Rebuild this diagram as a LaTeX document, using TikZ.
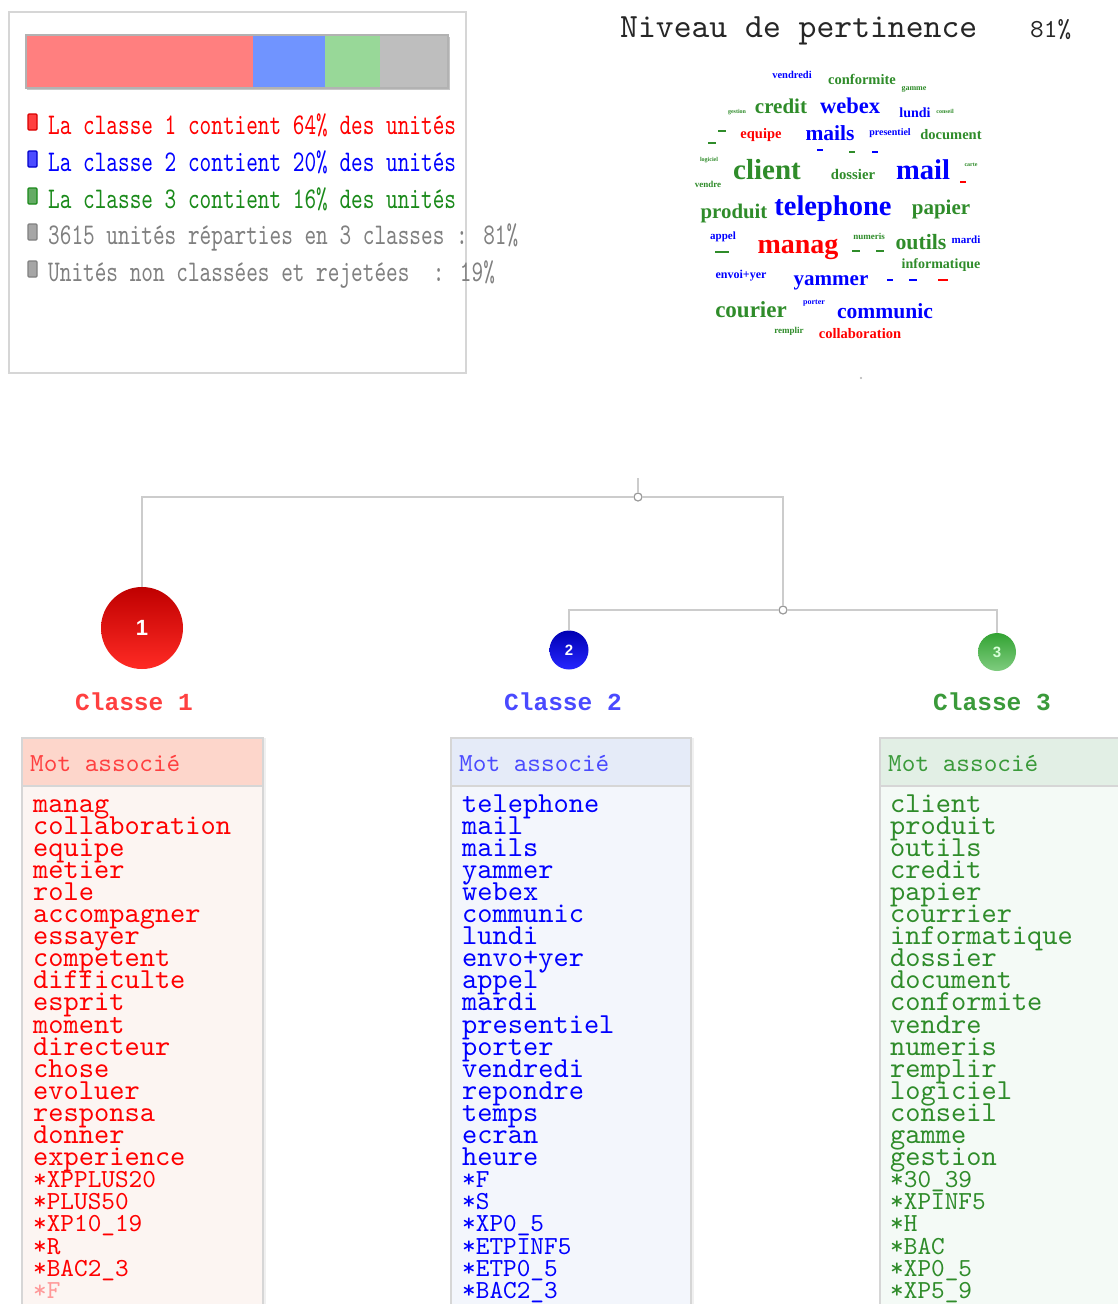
\documentclass[tikz,border=0pt]{standalone}
\usepackage{fontspec}
\newfontfamily\monof{lmmono10-regular.otf}[BoldFont=lmmonolt10-bold.otf]
\newfontfamily\legf{lmmono10-regular.otf}[FakeStretch=0.74]
\newfontfamily\lblf{Liberation Mono}
\newfontfamily\cloudf{Liberation Serif}
\newfontfamily\numf{Liberation Sans}
\definecolor{cred}{HTML}{FF0000}
\definecolor{cblue}{HTML}{0000FF}
\definecolor{cgreen}{HTML}{2F8C2A}
\definecolor{lgreen}{HTML}{1A8A1A}
\definecolor{lgray}{HTML}{808080}
\definecolor{barred}{HTML}{FF7F7F}
\definecolor{barblue}{HTML}{7094FF}
\definecolor{bargreen}{HTML}{98D898}
\definecolor{bargray}{HTML}{BEBEBE}
\definecolor{boxline}{HTML}{D6D6D6}
\definecolor{treeline}{HTML}{CCCCCC}
\definecolor{headA}{HTML}{FDD6CB}
\definecolor{bodyA}{HTML}{FCF5F2}
\definecolor{headB}{HTML}{E5EBF8}
\definecolor{bodyB}{HTML}{F3F6FC}
\definecolor{headC}{HTML}{E2EFE5}
\definecolor{bodyC}{HTML}{F4FAF6}
\definecolor{lblA}{HTML}{FF4040}
\definecolor{lblB}{HTML}{4A4AFF}
\definecolor{lblC}{HTML}{3A9A3A}
\begin{document}
\begin{tikzpicture}[x=1pt,y=-1pt,
  legtext/.style={anchor=base west, inner sep=0, font=\legf\fontsize{30}{30}\selectfont},
  wordsty/.style={anchor=base west, inner sep=0, text height=15, text depth=5, font=\monof\fontsize{29}{29}\selectfont},
  starsty/.style={anchor=base west, inner sep=0, text height=15, text depth=4, font=\monof\fontsize{26}{26}\selectfont},
  headsty/.style={anchor=base west, inner sep=0, font=\monof\fontsize{26}{26}\selectfont},
  classlbl/.style={anchor=base, inner sep=0, font=\lblf\bfseries\fontsize{24.5}{24.5}\selectfont},
  cloudw/.style={inner sep=0, font=\cloudf\bfseries\fontsize{#1}{#1}\selectfont},
  treeedge/.style={draw=treeline, line width=2},
  joint/.style={circle, draw=gray!80, fill=white, line width=1.2, minimum size=8, inner sep=0},
  ballnode/.style={circle, inner sep=0, text=white, font=\numf\bfseries\fontsize{#1}{#1}\selectfont},
  legsq/.style={rounded corners=1, line width=1.2}
]
\useasboundingbox (0,0) rectangle (1118,1304);
\clip (0,0) rectangle (1118,1304);
\fill[white] (0,0) rectangle (1118,1304);

% ---------- legend box ----------
\draw[boxline, line width=1.5] (9,12) rectangle (466,373);
\fill[gray!45] (27,37) rectangle (450,90);
\fill[barred] (26,35) rectangle (253,88);
\fill[barblue] (253,35) rectangle (325,88);
\fill[bargreen] (325,35) rectangle (380,88);
\fill[bargray] (380,35) rectangle (448,88);
\draw[gray!60, line width=1.2] (26,35) rectangle (448,88);

\draw[legsq, draw=red!85!black, fill=red!75] (28,114) rectangle (37,130);
\draw[legsq, draw=blue!80!black, fill=blue!70] (28,151) rectangle (37,167);
\draw[legsq, draw=lgreen, fill=green!45!black!60] (28,188) rectangle (37,204);
\draw[legsq, draw=gray, fill=gray!70] (28,224) rectangle (37,240);
\draw[legsq, draw=gray, fill=gray!70] (28,261) rectangle (37,277);

\node[legtext, text=cred] (l1) at (48,134) {La classe 1 contient 64\% des unités};
\node[legtext, text=cblue] (l2) at (48,171) {La classe 2 contient 20\% des unités};
\node[legtext, text=lgreen] (l3) at (48,208) {La classe 3 contient 16\% des unités};
\node[legtext, text=lgray] (l4) at (48,244) {3615 unités réparties en 3 classes : 81\%};
\node[legtext, text=lgray] (l5) at (48,281) {Unités non classées et rejetées \ : 19\%};

% ---------- title ----------
\node[anchor=base west, inner sep=0, font=\monof\fontsize{34}{34}\selectfont, text=black!85] (title) at (620,37) {Niveau de pertinence};
\node[anchor=base west, inner sep=0, font=\monof\fontsize{26}{26}\selectfont, text=black!85] (pct) at (1030,37) {81\%};

% ---------- word cloud ----------
\foreach \w/\x/\y/\s/\c [count=\i] in {
  vendredi/792/75/10.5/cblue,
  conformite/862/79/14.5/cgreen,
  gamme/914/89/8/cgreen,
  gestion/737/112/6/cgreen,
  credit/781/106/21/cgreen,
  webex/850/106/22.5/cblue,
  lundi/915/113/14/cblue,
  conseil/945/111/6/cgreen,
  equipe/761/135/14.5/cred,
  mails/830/133/21.5/cblue,
  presentiel/890/133/10/cblue,
  document/951/135/14.5/cgreen,
  logiciel/709/160/6/cgreen,
  client/767/170/29/cgreen,
  dossier/853/174/14.7/cgreen,
  mail/923/170/28.6/cblue,
  carte/971/165/6/cgreen,
  vendre/708/184/9/cgreen,
  produit/734/213/20.8/cgreen,
  telephone/833/209/28.5/cblue,
  papier/941/209/21/cgreen,
  appel/723/237/11/cblue,
  manag/798/249/28/cred,
  numeris/869/236/9/cgreen,
  outils/921/242/21.8/cgreen,
  mardi/966/240/11/cblue,
  informatique/941/265/14/cgreen,
  envoi+yer/741/276/12/cblue,
  yammer/831/283/21/cblue,
  courier/751/310/23/cgreen,
  porter/814/303/8/cblue,
  communic/885/311/21.6/cblue,
  remplir/789/331/9/cgreen,
  collaboration/860/334/14.5/cred}
  \node[cloudw=\s, text=\c] (cw\i) at (\x,\y) {\w};

\foreach \x/\y/\l/\c in {722/131/8/cgreen, 712/143/8/cgreen, 820/150/6/cblue, 852/152/6/cgreen,
  875/152/6/cblue, 963/182/6/cred, 722/252/14/cgreen, 856/251/8/cgreen, 880/251/8/cgreen,
  890/280/6/cblue, 913/280/8/cblue, 943/280/10/cred}
  \draw[\c, line width=1.6] (\x-\l/2,\y) -- (\x+\l/2,\y);
\fill[gray!60] (861,378) circle (1.2);

% ---------- tree ----------
\coordinate (top) at (638,478);
\node[joint] (r) at (638,497) {};
\node[joint] (m) at (783,610) {};
\node[ballnode=22, minimum size=82, top color=red!75!black, bottom color=red!85!white!95!orange] (c1) at (142,628) {1};
\node[ballnode=15, minimum size=39, top color=blue!70!black, bottom color=blue!85!white] (c2) at (569,650) {2};
\node[ballnode=15, minimum size=38, top color=green!55!black!80, bottom color=green!60!black!50!white, text=green!15!white] (c3) at (997,652) {3};

\draw[treeedge] (top) -- (r);
\draw[treeedge] (r) -| (c1);
\draw[treeedge] (r) -| (m);
\draw[treeedge] (m) -| (c2);
\draw[treeedge] (m) -| (c3);

\node[classlbl, text=lblA] (k1) at (134,710) {Classe 1};
\node[classlbl, text=lblB] (k2) at (563,710) {Classe 2};
\node[classlbl, text=lblC] (k3) at (992,710) {Classe 3};

% ---------- tables ----------
\foreach \xa/\xb/\hc/\bc in {22/263/headA/bodyA, 451/691/headB/bodyB, 880/1125/headC/bodyC}{
  \fill[gray!12] (\xa+2,738) rectangle (\xb+3,1310);
  \fill[\bc] (\xa,738) rectangle (\xb,1310);
  \fill[\hc] (\xa,738) rectangle (\xb,786);
  \draw[boxline, line width=1.5] (\xa,1310) -- (\xa,738) -- (\xb,738) -- (\xb,1310);
  \draw[boxline, line width=1.5] (\xa,786) -- (\xb,786);
}
\node[headsty, text=lblA] (h1) at (30,771) {Mot associé};
\node[headsty, text=lblB] (h2) at (459,771) {Mot associé};
\node[headsty, text=lblC] (h3) at (888,771) {Mot associé};

% column 1
\foreach \w [count=\i from 0] in {manag,collaboration,equipe,metier,role,accompagner,essayer,competent,difficulte,esprit,moment,directeur,chose,evoluer,responsa,donner,experience}
  \node[wordsty, text=cred] (a\i) at (33,812+22.1*\i) {\w};
\foreach \w [count=\i from 17] in {*XPPLUS20,*PLUS50,*XP10\_19,*R,*BAC2\_3}
  \node[starsty, text=cred] (a\i) at (33,812+22.1*\i) {\w};
\node[starsty, text=cred!40] (a22) at (33,812+22.1*22) {*F};

% column 2
\foreach \w [count=\i from 0] in {telephone,mail,mails,yammer,webex,communic,lundi,envo+yer,appel,mardi,presentiel,porter,vendredi,repondre,temps,ecran,heure}
  \node[wordsty, text=cblue] (b\i) at (462,812+22.1*\i) {\w};
\foreach \w [count=\i from 17] in {*F,*S,*XP0\_5,*ETPINF5,*ETP0\_5,*BAC2\_3}
  \node[starsty, text=cblue] (b\i) at (462,812+22.1*\i) {\w};

% column 3
\foreach \w [count=\i from 0] in {client,produit,outils,credit,papier,courrier,informatique,dossier,document,conformite,vendre,numeris,remplir,logiciel,conseil,gamme,gestion}
  \node[wordsty, text=cgreen] (g\i) at (890,812+22.1*\i) {\w};
\foreach \w [count=\i from 17] in {*30\_39,*XPINF5,*H,*BAC,*XP0\_5,*XP5\_9}
  \node[starsty, text=cgreen] (g\i) at (890,812+22.1*\i) {\w};
\end{tikzpicture}
\end{document}
